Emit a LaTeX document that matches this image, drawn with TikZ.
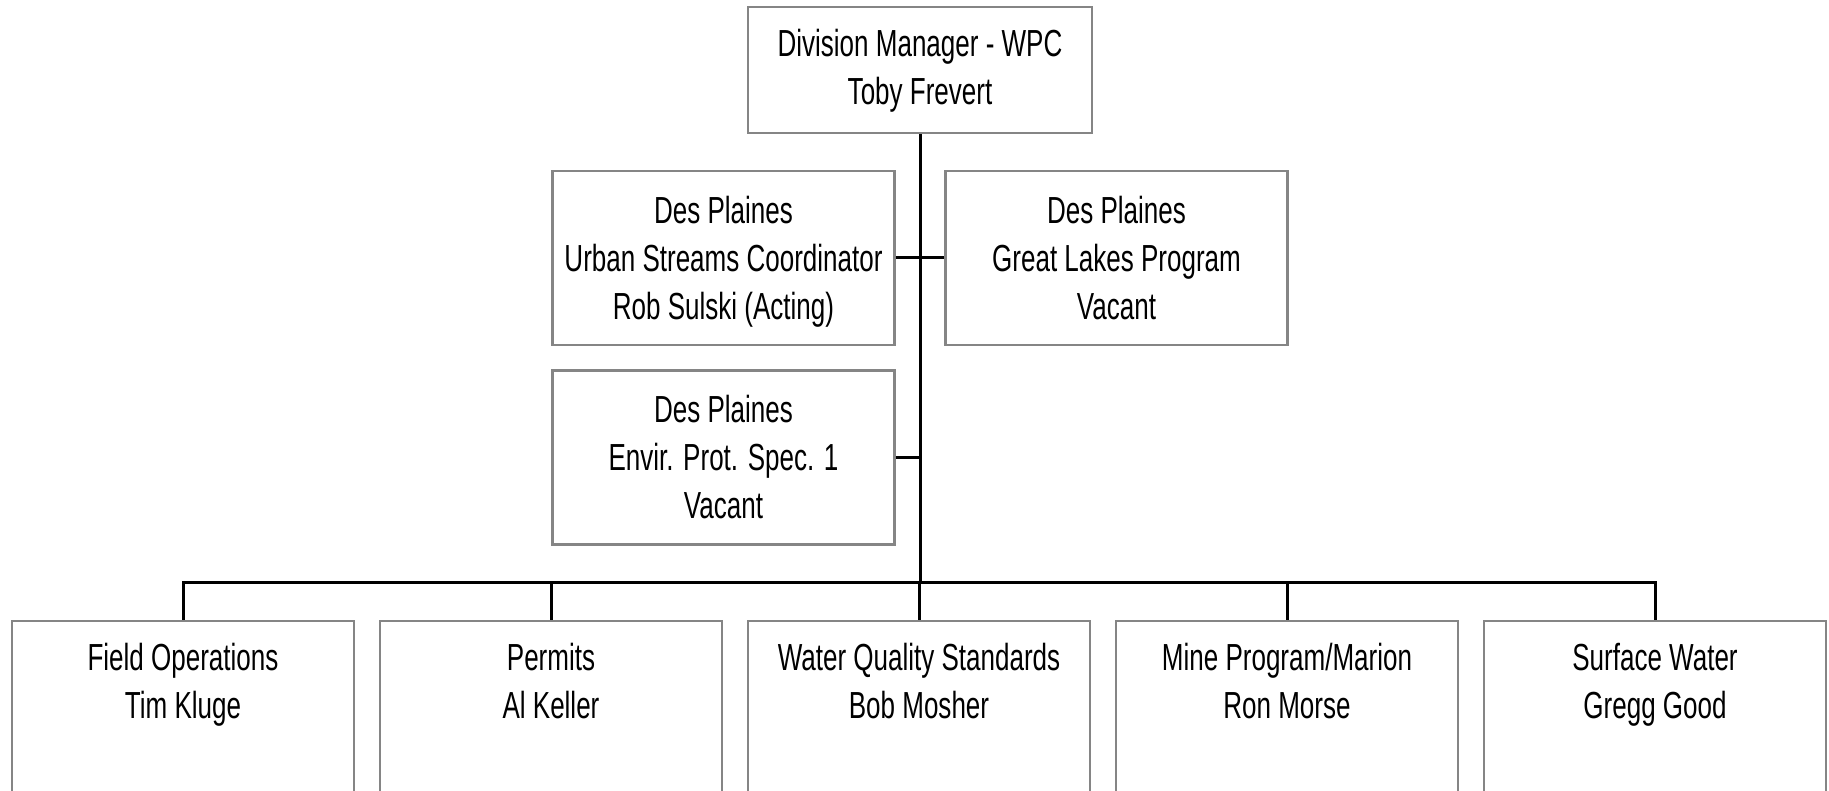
\documentclass[tikz,border=0pt]{standalone}
\usepackage{fontspec}
\setmainfont{Liberation Sans}[FakeStretch=0.69]
\newcommand{\firstline}{\rule{0pt}{40.6pt}}
\newcommand{\firstlinesm}{\rule{0pt}{36pt}}
\begin{document}
\begin{tikzpicture}[x=1pt,y=-1pt,
  box/.style={draw=black!48, line width=2.4pt, fill=white, align=center,
    inner sep=0pt, minimum width=342pt, minimum height=174pt,
    font=\fontsize{37.7}{48}\selectfont},
  topbox/.style={box, minimum width=344pt, minimum height=126pt},
  conn/.style={draw=black, line width=3pt}]
\useasboundingbox (0,0) rectangle (1829,791);
\clip (0,0) rectangle (1829,791);
\fill[white] (0,0) rectangle (1829,791);
\node[topbox] (top) at (920,70) {\firstlinesm Division Manager - WPC\\\strut Toby Frevert};
\node[box] (urban) at (723.5,258) {\firstline Des Plaines\\\strut Urban Streams Coordinator\\\strut Rob Sulski (Acting)};
\node[box] (great) at (1116.5,258) {\firstline Des Plaines\\\strut Great Lakes Program\\\strut Vacant};
\node[box] (envir) at (723.5,457.5) {\firstline Des Plaines\\\strut Envir. Prot. Spec. 1\\\strut Vacant};
\node[box] (b1) at (183,708) {\firstlinesm Field Operations\\\strut Tim Kluge\\\strut};
\node[box] (b2) at (551,708) {\firstlinesm Permits\\\strut Al Keller\\\strut};
\node[box] (b3) at (919,708) {\firstlinesm Water Quality Standards\\\strut Bob Mosher\\\strut};
\node[box] (b4) at (1287,708) {\firstlinesm Mine Program/Marion\\\strut Ron Morse\\\strut};
\node[box] (b5) at (1655,708) {\firstlinesm Surface Water\\\strut Gregg Good\\\strut};
\coordinate (bus) at (920,582);
\draw[conn] (top.south) -- (bus);
\draw[conn] (urban.east) -- (great.west);
\draw[conn] (envir.east) -- (envir.east -| top.south);
\draw[conn] (b1.north) |- (bus) -| (b5.north);
\draw[conn] (b2.north) -- (b2.north |- bus);
\draw[conn] (b3.north) -- (b3.north |- bus);
\draw[conn] (b4.north) -- (b4.north |- bus);
\end{tikzpicture}
\end{document}
